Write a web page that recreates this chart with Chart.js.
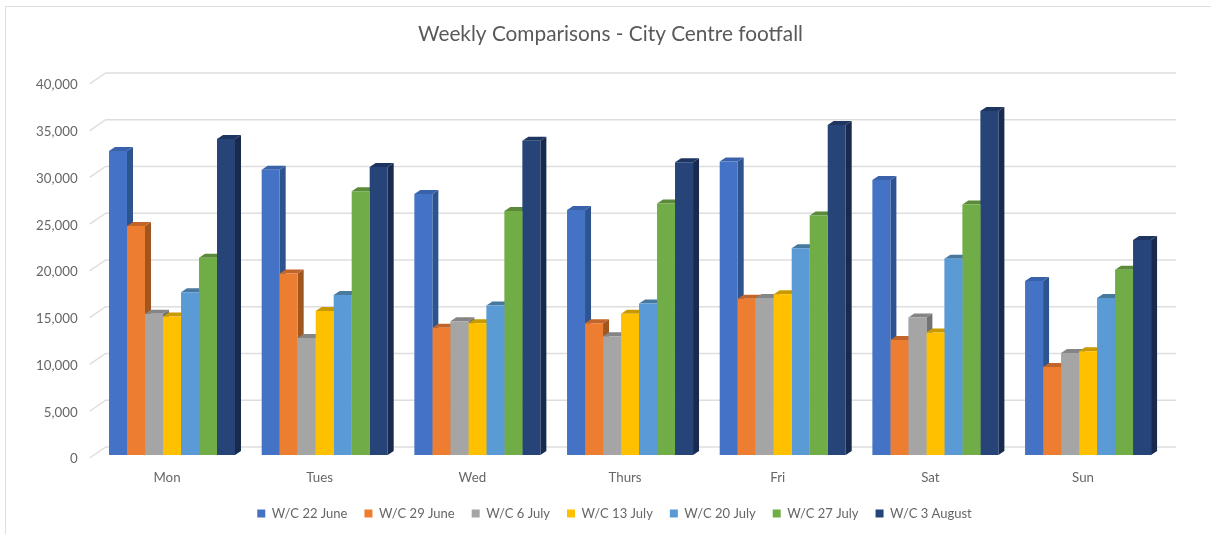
<!DOCTYPE html>
<html>
<head>
<meta charset="utf-8">
<title>Weekly Comparisons - City Centre footfall</title>
<script src="https://cdn.jsdelivr.net/npm/chart.js@4"></script>
<style>
  html, body { margin: 0; padding: 0; background: #fff; }
  canvas { display: block; }
</style>
</head>
<body>
<canvas id="footfall" width="1211" height="534"></canvas>
<script>
const days = ['Mon', 'Tues', 'Wed', 'Thurs', 'Fri', 'Sat', 'Sun'];
const weeks = ['W/C 22 June', 'W/C 29 June', 'W/C 6 July', 'W/C 13 July', 'W/C 20 July', 'W/C 27 July', 'W/C 3 August'];

const wc22June = [32500, 30500, 27900, 26200, 31400, 29400, 18600];
const wc29June = [24500, 19400, 13600, 14100, 16700, 12300, 9400];
const wc6July = [15100, 12500, 14300, 12700, 16800, 14700, 10900];
const wc13July = [14800, 15400, 14100, 15100, 17200, 13100, 11100];
const wc20July = [17400, 17100, 16000, 16200, 22100, 21000, 16800];
const wc27July = [21100, 28200, 26100, 26900, 25600, 26800, 19800];
const wc3August = [33800, 30800, 33600, 31300, 35300, 36800, 23000];
const allWeeks = [wc22June, wc29June, wc6July, wc13July, wc20July, wc27July, wc3August];

const frontColours = ['#4472C4', '#ED7D31', '#A5A5A5', '#FFC000', '#5B9BD5', '#70AD47', '#264478'];
const sideColours = ['#2E5490', '#A0561F', '#737373', '#B38600', '#3F6D98', '#4E7932', '#182B4E'];
const topColours = ['#3A62AA', '#C2652A', '#858585', '#C99A00', '#47799F', '#5A8A3A', '#1D3560'];

const textColour = '#666666';
const gridColour = '#DEDEDE';
const fontFamily = 'Lato';

// fake 3D: bar depth and the floor/back wall offsets, in pixels
const barDepthX = 6;
const barDepthY = 4;

const excel3d = {
    id: 'excel3d',
    afterLayout(chart) {
        // title and legend are centred on the whole picture, not on the shrunken plot
        chart.titleBlock.left = 10;
        chart.titleBlock.right = 1211;
        chart.legend.left = 18;
        chart.legend.right = 1211;
        chart.legend.top = 515 - 8 - chart.options.plugins.legend.labels.padding;
    },
    beforeDraw(chart) {
        const ctx = chart.ctx;
        ctx.save();
        ctx.strokeStyle = gridColour;
        ctx.lineWidth = 1;
        ctx.beginPath();
        ctx.moveTo(5.5, 534);
        ctx.lineTo(5.5, 6.5);
        ctx.lineTo(1211, 6.5);
        ctx.stroke();
        ctx.restore();
    },
    beforeDatasetsDraw(chart) {
        const ctx = chart.ctx;
        const yScale = chart.scales.y;
        const left = chart.chartArea.left;
        ctx.save();

        // back wall lines with the little slanted tick running to the front
        ctx.strokeStyle = gridColour;
        ctx.lineWidth = 1.5;
        yScale.ticks.forEach(tick => {
            const y = yScale.getPixelForValue(tick.value);
            ctx.beginPath();
            ctx.moveTo(left - 6, y + 3);
            ctx.lineTo(left + 10, y - 8);
            ctx.lineTo(1176, y - 8);
            ctx.stroke();
        });

        // sides and tops, left to right so the next bar covers the previous side
        chart.data.datasets.forEach((dataset, i) => {
            chart.getDatasetMeta(i).data.forEach(bar => {
                const p = bar.getProps(['x', 'y', 'base', 'width'], true);
                const l = p.x - p.width / 2;
                const r = p.x + p.width / 2;

                ctx.fillStyle = sideColours[i];
                ctx.beginPath();
                ctx.moveTo(r, p.y);
                ctx.lineTo(r + barDepthX, p.y - barDepthY);
                ctx.lineTo(r + barDepthX, p.base - barDepthY);
                ctx.lineTo(r, p.base);
                ctx.closePath();
                ctx.fill();

                ctx.fillStyle = topColours[i];
                ctx.beginPath();
                ctx.moveTo(l, p.y);
                ctx.lineTo(l + barDepthX, p.y - barDepthY);
                ctx.lineTo(r + barDepthX, p.y - barDepthY);
                ctx.lineTo(r, p.y);
                ctx.closePath();
                ctx.fill();
            });
        });
        ctx.restore();
    }
};

new Chart(
    document.getElementById('footfall'),
    {
        type: 'bar',
        data: {
            labels: days,
            datasets: weeks.map((week, i) => ({
                label: week,
                data: allWeeks[i],
                backgroundColor: frontColours[i],
                borderWidth: 0,
                barPercentage: 1,
                categoryPercentage: 0.8253
            }))
        },
        options: {
            responsive: false,
            animation: false,
            layout: {
                padding: { left: 0, right: 46.6, top: 0, bottom: 0 }
            },
            plugins: {
                title: {
                    display: true,
                    text: 'Weekly Comparisons - City Centre footfall',
                    color: '#595959',
                    font: { family: fontFamily, size: 20.8, weight: 'normal' },
                    padding: { top: 22, bottom: 34 }
                },
                legend: {
                    position: 'bottom',
                    labels: {
                        color: textColour,
                        font: { family: fontFamily, size: 13 },
                        boxWidth: 8,
                        boxHeight: 8,
                        padding: 17
                    }
                },
                tooltip: { enabled: false }
            },
            scales: {
                x: {
                    grid: { display: false },
                    border: { display: false },
                    ticks: {
                        color: textColour,
                        font: { family: fontFamily, size: 13.3 },
                        padding: 7,
                        labelOffset: -5,
                        maxRotation: 0
                    },
                    afterFit: scale => { scale.height = 79 - scale.chart.legend.height; }
                },
                y: {
                    min: 0,
                    max: 40000,
                    grid: { display: false, drawTicks: false },
                    border: { display: false },
                    ticks: {
                        stepSize: 5000,
                        color: textColour,
                        font: { family: fontFamily, size: 13.3 },
                        padding: 18,
                        labelOffset: 4,
                        callback: value => value.toLocaleString('en-GB')
                    },
                    afterFit: scale => { scale.width = 95.67; }
                }
            }
        },
        plugins: [excel3d]
    }
);
</script>
</body>
</html>
